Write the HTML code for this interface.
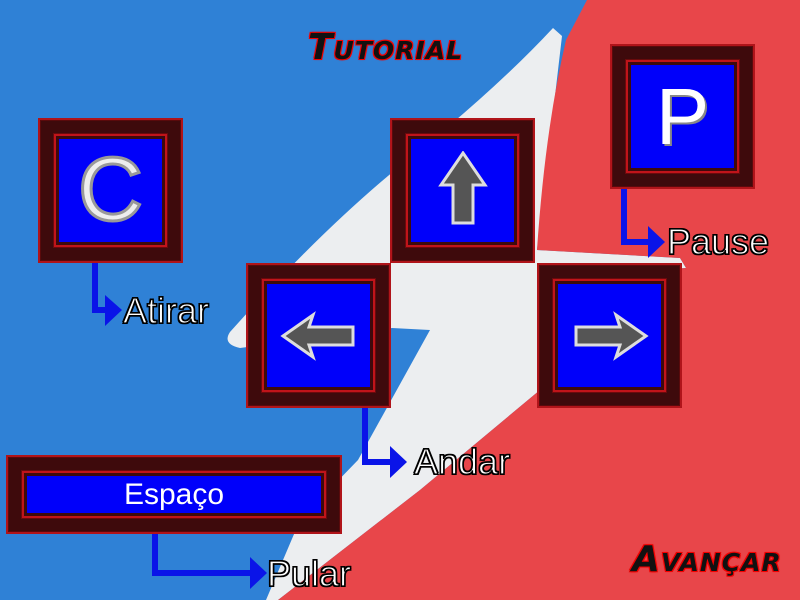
<!DOCTYPE html>
<html><head><meta charset="utf-8"><style>
body{margin:0;width:800px;height:600px;overflow:hidden;font-family:"Liberation Sans",sans-serif}
.k{position:absolute;background:#3e0a0c;border:2px solid #b0141a;box-sizing:border-box;box-shadow:inset 0 0 0 1px #5a0a0c}
.k .in{position:absolute;left:14px;top:14px;right:14px;bottom:14px;border:2px solid #c0141a;box-shadow:0 0 0 1px #6a0a0c}
.k .b{position:absolute;left:3px;top:3px;right:3px;bottom:3px;background:#0000fa;display:flex;align-items:center;justify-content:center;color:#fff}
.lbl{position:absolute;color:#fff;font-size:36px;line-height:36px;-webkit-text-stroke:1.2px #000;text-shadow:1px 1px 0 #000,-1px -1px 0 #000,1px -1px 0 #000,-1px 1px 0 #000}
.t{position:absolute;font-weight:bold;font-style:italic;font-variant:small-caps;color:#111;font-size:36px;font-family:"DejaVu Sans",sans-serif;text-shadow:0 0 2px #f00,1px 1px 0 #e00,-1px -1px 0 #e00,1px -1px 0 #e00,-1px 1px 0 #e00;letter-spacing:1px}
</style></head><body>
<svg width="800" height="600" style="position:absolute;left:0;top:0">
<rect width="800" height="600" fill="#2f81d6"/>
<path fill="#eceef0" d="M553,28 L562,36 L537,250 L680,258 L686,268 L560,276 L540,390 L420,490 L278,600 L266,600 L300,520 L358,460 L430,330 L392,328 L240,348 Q222,344 230,332 Q330,220 420,150 Q500,85 553,28 Z"/>
<path fill="#e8464a" d="M587,0 L800,0 L800,600 L278,600 L420,490 L540,390 L548,276 L686,268 L680,258 L537,250 Q545,130 566,40 Z"/>
<g stroke="#0a14e8" stroke-width="6" fill="none">
<polyline points="95,262 95,310 108,310"/>
<polyline points="365,407 365,462 392,462"/>
<polyline points="624,188 624,242 650,242"/>
<polyline points="155,533 155,573 252,573"/>
</g>
<g fill="#0a14e8">
<polygon points="105,295 122,310 105,326"/>
<polygon points="390,446 407,462 390,478"/>
<polygon points="648,226 665,242 648,258"/>
<polygon points="250,557 267,573 250,589"/>
</g>
</svg>
<div class="k" style="left:38px;top:118px;width:145px;height:145px"><div class="in"><div class="b" style="font-size:90px;color:#eee;-webkit-text-stroke:3px #999">C</div></div></div>
<div class="k" style="left:390px;top:118px;width:145px;height:145px"><div class="in"><div class="b"><svg width="60" height="80" viewBox="0 0 60 80"><polygon points="30,2 52,34 40,34 40,72 20,72 20,34 8,34" fill="#555" stroke="#ddd" stroke-width="3"/></svg></div></div></div>
<div class="k" style="left:610px;top:44px;width:145px;height:145px"><div class="in"><div class="b" style="font-size:80px;text-shadow:2px 2px 0 #888">P</div></div></div>
<div class="k" style="left:246px;top:263px;width:145px;height:145px"><div class="in"><div class="b"><svg width="80" height="50" viewBox="0 0 80 50"><polygon points="4,25 34,4 30,16 74,16 74,34 30,34 34,46" fill="#555" stroke="#ddd" stroke-width="3"/></svg></div></div></div>
<div class="k" style="left:537px;top:263px;width:145px;height:145px"><div class="in"><div class="b"><svg width="80" height="50" viewBox="0 0 80 50"><polygon points="76,25 46,4 50,16 6,16 6,34 50,34 46,46" fill="#555" stroke="#ddd" stroke-width="3"/></svg></div></div></div>
<div class="k" style="left:6px;top:455px;width:336px;height:79px"><div class="in"><div class="b" style="font-size:30px">Espaço</div></div></div>
<div class="lbl" style="left:123px;top:293px">Atirar</div>
<div class="lbl" style="left:414px;top:444px">Andar</div>
<div class="lbl" style="left:667px;top:224px">Pause</div>
<div class="lbl" style="left:267px;top:556px">Pular</div>
<div class="t" style="left:308px;top:27px">Tutorial</div>
<div class="t" style="left:632px;top:539px">Avançar</div>
</body></html>
